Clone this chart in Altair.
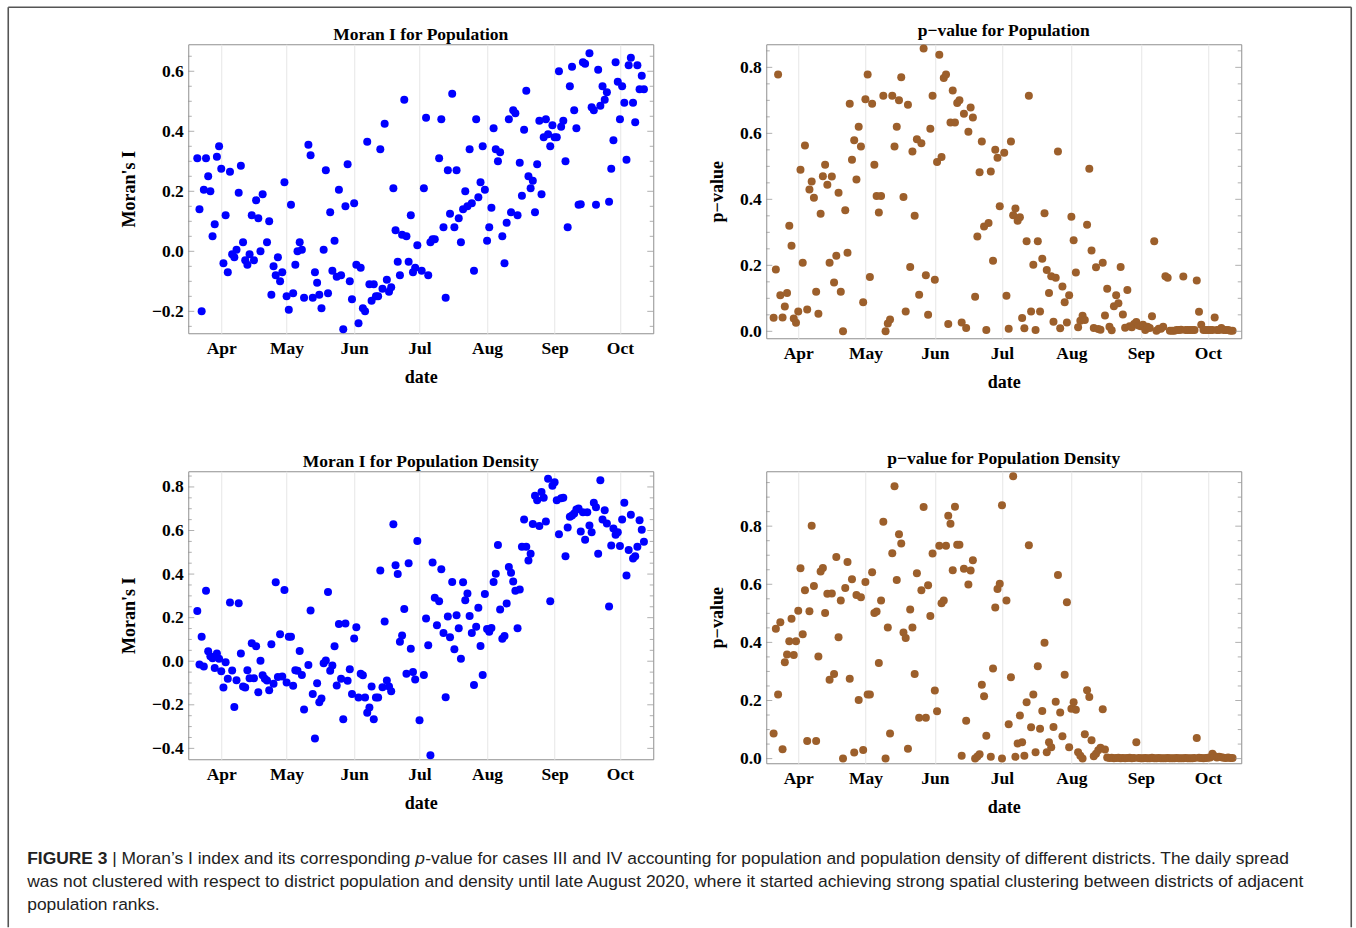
import altair as alt
import pandas as pd

START = pd.Timestamp("2020-03-01")  # day 0 of the day-offset arrays below

# ---------------- Moran I for Population ----------------
MI_POP_DAY = [20, 21, 22, 23, 24, 25, 26, 27, 28, 29, 30, 31, 32, 33, 34, 35, 36, 37, 38, 39,
              40, 41, 42, 43, 44, 45, 46, 47, 48, 49, 50, 52, 53, 54, 55, 56, 57, 58, 59, 60,
              61, 62, 63, 64, 65, 66, 67, 68, 69, 71, 72, 73, 74, 75, 76, 77, 78, 79, 80, 81,
              82, 83, 84, 85, 86, 87, 88, 89, 90, 91, 92, 93, 94, 95, 96, 97, 98, 99, 100, 101,
              102, 103, 104, 105, 106, 107, 108, 109, 110, 111, 112, 113, 114, 115, 116, 117, 118, 119, 120, 121,
              123, 124, 125, 126, 127, 128, 129, 131, 132, 133, 134, 135, 136, 137, 138, 139, 140, 141, 142, 143,
              144, 145, 146, 147, 148, 149, 150, 151, 152, 153, 154, 155, 156, 157, 158, 159, 160, 161, 162, 163,
              164, 165, 166, 167, 168, 169, 170, 171, 172, 173, 174, 175, 176, 177, 178, 179, 180, 181, 182, 183,
              184, 185, 186, 187, 188, 189, 190, 191, 192, 193, 194, 195, 196, 197, 198, 200, 201, 202, 203, 204,
              205, 206, 207, 208, 209, 210, 211, 212, 213, 214, 215, 216, 217, 218, 219, 220, 221, 222, 223, 224, 225]
MI_POP_VAL = [0.31, 0.14, -0.20, 0.205, 0.31, 0.25, 0.20, 0.05, 0.09, 0.315, 0.35, 0.275, -0.04, 0.12, -0.07, 0.265, -0.01, -0.02, 0.005, 0.195,
              0.285, 0.03, -0.03, -0.045, -0.01, 0.12, -0.03, 0.17, 0.11, 0.00, 0.19, 0.03, 0.10, -0.145, -0.05, -0.08, -0.02, -0.10, -0.07, 0.23,
              -0.15, -0.195, 0.155, -0.14, -0.045, 0.00, 0.03, 0.005, -0.155, 0.355, 0.32, -0.155, -0.07, -0.105, -0.145, -0.19, 0.005, 0.27, -0.14, 0.13,
              -0.065, 0.035, -0.085, 0.205, -0.08, -0.26, 0.15, 0.29, -0.10, -0.16, 0.16, -0.045, -0.24, -0.055, -0.19, -0.20, 0.365, -0.11, -0.165, -0.11,
              -0.15, -0.15, 0.34, -0.125, 0.425, -0.095, -0.135, -0.12, 0.21, 0.07, -0.035, -0.08, 0.055, 0.505, 0.05, -0.035, 0.12, -0.07, -0.055, 0.02,
              -0.065, 0.21, 0.445, -0.08, 0.03, 0.04, 0.04, 0.31, 0.44, 0.08, -0.155, 0.27, 0.125, 0.525, 0.08, 0.27, 0.11, 0.03, 0.14, 0.20,
              0.15, 0.34, 0.16, -0.065, 0.44, 0.18, 0.23, 0.35, 0.205, 0.035, 0.08, 0.145, 0.41, 0.34, 0.30, 0.33, 0.05, -0.04, 0.095, 0.44,
              0.13, 0.47, 0.46, 0.12, 0.295, 0.185, 0.405, 0.535, 0.25, 0.21, 0.235, 0.13, 0.29, 0.435, 0.19, 0.38, 0.44, 0.39, 0.35, 0.42,
              0.38, 0.38, 0.60, 0.415, 0.435, 0.30, 0.08, 0.55, 0.615, 0.47, 0.41, 0.155, 0.157, 0.63, 0.625, 0.66, 0.48, 0.47, 0.155, 0.605,
              0.485, 0.55, 0.505, 0.53, 0.165, 0.275, 0.37, 0.63, 0.565, 0.44, 0.55, 0.495, 0.305, 0.62, 0.645, 0.495, 0.43, 0.62, 0.54, 0.585, 0.54]

# ---------------- p-value for Population ----------------
P_POP_DAY = list(range(20, 122)) + list(range(123, 226))
P_POP_VAL = [0.041, 0.187, 0.778, 0.109, 0.042, 0.075, 0.116, 0.32, 0.259, 0.039, 0.026, 0.06, 0.49, 0.208, 0.563, 0.066, 0.43, 0.454, 0.405, 0.12,
             0.053, 0.356, 0.47, 0.505, 0.444, 0.208, 0.469, 0.148, 0.229, 0.42, 0.12, 0.0, 0.367, 0.238, 0.69, 0.52, 0.579, 0.46, 0.62, 0.56,
             0.088, 0.703, 0.778, 0.165, 0.69, 0.505, 0.41, 0.36, 0.41, 0.714, 0.0, 0.024, 0.036, 0.714, 0.56, 0.62, 0.70, 0.77, 0.407, 0.06,
             0.687, 0.195, 0.545, 0.35, 0.582, 0.111, 0.57, 0.857, 0.17, 0.05, 0.614, 0.714, 0.156, 0.513, 0.838, 0.528, 0.768, 0.778, 0.022, 0.633,
             0.73, 0.633, 0.692, 0.70, 0.027, 0.659, 0.01, 0.605, 0.678, 0.648, 0.105, 0.287, 0.482, 0.575, 0.318, 0.004, 0.328, 0.484, 0.214, 0.55,
             0.526, 0.379,
             0.541, 0.108, 0.008, 0.575, 0.352, 0.372, 0.335, 0.346, 0.04, 0.009, 0.273, 0.714, 0.06, 0.202, 0.004, 0.273, 0.06, 0.22, 0.358, 0.186,
             0.116, 0.167, 0.029, 0.162, 0.545, 0.009, 0.136, 0.088, 0.027, 0.109, 0.347, 0.276, 0.178, 0.012, 0.032, 0.047, 0.034, 0.323, 0.493, 0.245,
             0.01, 0.194, 0.007, 0.005, 0.208, 0.048, 0.129, 0.014, 0.003, 0.076, 0.109, 0.085, 0.195, 0.051, 0.011, 0.125, 0.015, 0.012, 0.022, 0.028,
             0.018, 0.015, 0.02, 0.004, 0.014, 0.01, 0.046, 0.273, 0.002, 0.008, 0.008, 0.014, 0.167, 0.162, 0.002, 0.002, 0.002, 0.004, 0.004, 0.005,
             0.166, 0.004, 0.004, 0.004, 0.004, 0.004, 0.154, 0.059, 0.02, 0.004, 0.004, 0.004, 0.004, 0.004, 0.042, 0.004, 0.004, 0.01, 0.004, 0.004,
             0.004, 0.002, 0.002]

# ---------------- Moran I for Population Density ----------------
MI_DEN_DAY = ([20, 21, 22, 23, 24, 25, 26, 27, 28, 29, 30, 31, 32, 33, 34, 35, 36, 37, 38, 39,
               40, 41, 42, 43, 44, 45, 46, 47, 48, 49, 50, 51, 52, 53, 54, 55, 56, 57, 58, 59,
               60, 61, 62, 63, 64, 65, 66, 67, 68, 69, 71, 72, 73, 74, 75, 76, 77, 78, 79, 80,
               81, 82, 83, 84, 85, 86, 87, 88, 89, 90, 91, 92, 93, 94, 95, 96, 97, 98, 99, 100,
               101, 102, 103, 104, 105, 106, 107, 108, 109, 110, 111, 112, 113, 114, 115, 116, 117, 118, 119, 120,
               121, 122] + list(range(124, 226)))
MI_DEN_VAL = [0.231, -0.015, 0.112, -0.024, 0.324, 0.046, 0.023, 0.014, -0.031, 0.035, 0.011, -0.046, -0.121, -0.005, -0.081, 0.269, -0.043, -0.21, -0.087, 0.266,
              0.035, -0.116, -0.121, -0.041, -0.078, 0.083, -0.078, 0.069, -0.142, 0.002, -0.064, -0.08, -0.089, -0.133, 0.078, -0.103, 0.363, -0.073, 0.124, -0.07,
              0.327, -0.098, 0.112, 0.112, -0.113, -0.041, -0.044, 0.047, -0.063, -0.222, -0.017, 0.233, -0.15, -0.355, -0.101, -0.188, -0.171, -0.009, 0.003, 0.318,
              -0.044, -0.02, 0.069, -0.112, 0.171, -0.08, -0.266, 0.173, -0.09, -0.037, -0.15, 0.104, 0.156, -0.167, -0.058, -0.064, -0.167, -0.237, -0.213, -0.116,
              -0.266, -0.167, -0.167, 0.416, -0.119, 0.182, -0.089, -0.116, -0.138, 0.629, 0.441, 0.4, 0.089, 0.118, 0.24, -0.057, 0.45, 0.057, -0.049, -0.084,
              0.552, -0.271,
              -0.063, 0.196, 0.073, -0.432, 0.453, 0.291, 0.165, 0.275, 0.422, 0.13, -0.165, 0.205, 0.11, 0.364, 0.055, 0.211, 0.151, 0.011, 0.363, 0.28,
              0.311, 0.207, 0.13, -0.109, 0.158, 0.245, 0.07, -0.063, 0.308, 0.148, 0.135, 0.153, 0.364, 0.401, 0.534, 0.237, 0.103, 0.116, 0.265, 0.432,
              0.406, 0.366, 0.323, 0.151, 0.329, 0.526, 0.65, 0.526, 0.462, 0.493, 0.63, 0.759, 0.739, 0.621, 0.777, 0.75, 0.641, 0.837, 0.275, 0.806,
              0.822, 0.739, 0.583, 0.748, 0.75, 0.482, 0.614, 0.663, 0.669, 0.678, 0.696, 0.701, 0.595, 0.684, 0.557, 0.684, 0.623, 0.592, 0.727, 0.707,
              0.493, 0.831, 0.65, 0.693, 0.632, 0.251, 0.531, 0.609, 0.581, 0.592, 0.529, 0.65, 0.727, 0.393, 0.51, 0.672, 0.471, 0.482, 0.525, 0.647,
              0.604, 0.548]

# ---------------- p-value for Population Density ----------------
P_DEN_DAY = (list(range(20, 116)) + [117, 118, 119, 120, 121, 122, 122] + list(range(124, 226)))
P_DEN_VAL = [0.086, 0.447, 0.221, 0.469, 0.032, 0.332, 0.358, 0.404, 0.481, 0.357, 0.404, 0.509, 0.655, 0.428, 0.579, 0.061, 0.507, 0.801, 0.594, 0.061,
             0.351, 0.644, 0.656, 0.501, 0.567, 0.271, 0.568, 0.291, 0.694, 0.418, 0.544, 0.0, 0.587, 0.677, 0.275, 0.617, 0.021, 0.563, 0.202, 0.555,
             0.03, 0.608, 0.221, 0.221, 0.641, 0.501, 0.506, 0.329, 0.544, 0.815, 0.0, 0.451, 0.086, 0.707, 0.937, 0.615, 0.772, 0.74, 0.434, 0.415,
             0.034, 0.513, 0.451, 0.291, 0.638, 0.141, 0.579, 0.866, 0.141, 0.597, 0.491, 0.706, 0.234, 0.163, 0.733, 0.535, 0.544, 0.733, 0.836, 0.808,
             0.648, 0.867, 0.736, 0.736, 0.01, 0.653, 0.13, 0.599, 0.647, 0.683, 0.0, 0.007, 0.015, 0.254, 0.215, 0.079,
             0.006, 0.31, 0.52, 0.584, 0.602, 0.0, 0.872,
             0.544, 0.118, 0.28, 0.972, 0.006, 0.052, 0.148, 0.056, 0.01, 0.194, 0.734, 0.108, 0.221, 0.022, 0.318, 0.103, 0.164, 0.399, 0.022, 0.056,
             0.039, 0.109, 0.196, 0.632, 0.159, 0.077, 0.289, 0.538, 0.039, 0.172, 0.194, 0.168, 0.022, 0.01, 0.0, 0.084, 0.235, 0.212, 0.063, 0.008,
             0.017, 0.029, 0.037, 0.17, 0.031, 0.004, 0.002, 0.003, 0.001, 0.002, 0.003, 0.001, 0.002, 0.001, 0.002, 0.003, 0.001, 0.002, 0.056, 0.002,
             0.001, 0.001, 0.002, 0.001, 0.001, 0.003, 0.001, 0.001, 0.002, 0.001, 0.001, 0.001, 0.002, 0.001, 0.001, 0.001, 0.002, 0.001, 0.001, 0.001,
             0.002, 0.001, 0.001, 0.001, 0.002, 0.071, 0.003, 0.002, 0.001, 0.002, 0.003, 0.004, 0.017, 0.008, 0.004, 0.006, 0.005, 0.003, 0.002, 0.004,
             0.002, 0.002]

MONTH_STARTS = ["2020-04-01", "2020-05-01", "2020-06-01", "2020-07-01", "2020-08-01", "2020-09-01", "2020-10-01"]

MI_POP_MAJOR = [-0.2, 0.0, 0.2, 0.4, 0.6]
MI_POP_MINOR = [-0.25, -0.15, -0.1, -0.05, 0.05, 0.1, 0.15, 0.25, 0.3, 0.35, 0.45, 0.5, 0.55, 0.65]
P_MAJOR = [0.0, 0.2, 0.4, 0.6, 0.8]
P_POP_MINOR = [0.05, 0.1, 0.15, 0.25, 0.3, 0.35, 0.45, 0.5, 0.55, 0.65, 0.7, 0.75, 0.85]
P_DEN_MINOR = [0.05, 0.1, 0.15, 0.25, 0.3, 0.35, 0.45, 0.5, 0.55, 0.65, 0.7, 0.75, 0.85, 0.9, 0.95]
MI_DEN_MAJOR = [-0.4, -0.2, 0.0, 0.2, 0.4, 0.6, 0.8]
MI_DEN_MINOR = [-0.35, -0.3, -0.25, -0.15, -0.1, -0.05, 0.05, 0.1, 0.15, 0.25, 0.3, 0.35, 0.45, 0.5, 0.55, 0.65, 0.7, 0.75, 0.85]

BLUE = "#0000ff"
BROWN = "#9c5f2b"
FRAME = "#8f8f8f"
SERIF = "Liberation Serif"
SANS = "Liberation Sans"
PVAL = "p\u2212value"


def to_ms(days):
    return [int((START + pd.Timedelta(days=float(d))).value // 10**6) for d in days]


MONTH_MS = [int(pd.Timestamp(m).value // 10**6) for m in MONTH_STARTS]
ONE = pd.DataFrame({"k": [0]})


def panel(days, vals, color, title, ytitle, ydom, xdom, majors, minors, w, h, toff, extra=()):
    df = pd.DataFrame({"t": to_ms(days), "v": vals})
    xs = alt.Scale(type="utc", domain=to_ms(xdom), nice=False)
    ys = alt.Scale(domain=ydom, nice=False, zero=False)
    pts = alt.Chart(df).mark_circle(size=64, color=color, opacity=1).encode(
        x=alt.X("t:T", scale=xs,
                axis=alt.Axis(values=MONTH_MS, labelExpr="utcFormat(datum.value, '%b')",
                              grid=True, ticks=False, tickSize=0, domain=False,
                              labelPadding=6, title="date", titlePadding=12)),
        y=alt.Y("v:Q", scale=ys,
                axis=alt.Axis(values=majors, format=".1f", ticks=False, tickSize=0,
                              domain=False, grid=False, labelPadding=5,
                              title=ytitle, titlePadding=13)),
    )
    ticks = []
    for vals_t, length in ((majors, 6), (minors, 3.5)):
        tdf = pd.DataFrame({"v": vals_t})
        for xpos in (length / 2, w - length / 2):
            ticks.append(
                alt.Chart(tdf).mark_tick(color=FRAME, thickness=1, size=length).encode(
                    y=alt.Y("v:Q", scale=ys, axis=None), x=alt.value(xpos)))
    head = alt.Chart(ONE).mark_text(align="center", baseline="alphabetic", font=SERIF,
                                    fontSize=17.5, fontWeight="bold", color="#000000").encode(
        x=alt.value(w / 2), y=alt.value(-toff), text=alt.value(title))
    return alt.layer(pts, *ticks, head, *extra).resolve_axis(y="independent").properties(
        width=w, height=h)


# outer frame of the figure (drawn relative to the first panel)
frame_layers = [
    alt.Chart(ONE).mark_rule(color="#555555", strokeWidth=1.6).encode(
        x=alt.value(-180), x2=alt.value(1163), y=alt.value(-37)),
    alt.Chart(ONE).mark_rule(color="#555555", strokeWidth=1.6).encode(
        x=alt.value(-180), y=alt.value(-37), y2=alt.value(883)),
    alt.Chart(ONE).mark_rule(color="#555555", strokeWidth=1.6).encode(
        x=alt.value(1163), y=alt.value(-37), y2=alt.value(883)),
]

CAP_SIZE = 17.4
CAP_COLOR = "#222222"
caption_parts = [
    ("FIGURE 3", -161, 393, "bold", "normal"),
    ("| Moran\u2019s I index and its corresponding", -76, 393, "normal", "normal"),
    ("p", 227, 393, "normal", "italic"),
    ("-value for cases III and IV accounting for population and population density of different districts. The daily spread", 237, 393, "normal", "normal"),
    ("was not clustered with respect to district population and density until late August 2020, where it started achieving strong spatial clustering between districts of adjacent", -161, 416, "normal", "normal"),
    ("population ranks.", -161, 439, "normal", "normal"),
]
caption_layers = [
    alt.Chart(ONE).mark_text(align="left", baseline="alphabetic", font=SANS, fontSize=CAP_SIZE,
                             color=CAP_COLOR, fontWeight=fw, fontStyle=fs).encode(
        x=alt.value(x), y=alt.value(y), text=alt.value(txt))
    for txt, x, y, fw, fs in caption_parts
]

p1 = panel(MI_POP_DAY, MI_POP_VAL, BLUE, "Moran I for Population", "Moran's I",
           [-0.273, 0.69], [15.85, 229.28], MI_POP_MAJOR, MI_POP_MINOR, 465, 289, 4, frame_layers)
p2 = panel(P_POP_DAY, P_POP_VAL, BROWN, "p\u2212value for Population", PVAL,
           [-0.021, 0.870], [16.71, 228.87], P_MAJOR, P_POP_MINOR, 475, 294, 8)
p3 = panel(MI_DEN_DAY, MI_DEN_VAL, BLUE, "Moran I for Population Density", "Moran's I",
           [-0.45, 0.872], [15.85, 229.28], MI_DEN_MAJOR, MI_DEN_MINOR, 465, 288, 4, caption_layers)
p4 = panel(P_DEN_DAY, P_DEN_VAL, BROWN, "p\u2212value for Population Density", PVAL,
           [-0.016, 0.989], [16.71, 228.87], P_MAJOR, P_DEN_MINOR, 475, 292, 7)

chart = alt.concat(p1, p2, p3, p4, columns=2, spacing={"row": 133, "column": 113}, bounds="flush").properties(
    padding={"left": 6.25, "top": 5.25, "right": 0, "bottom": 0},
    background="white",
).configure_view(
    stroke=FRAME, strokeWidth=1
).configure_axis(
    labelFont=SERIF, labelFontWeight="bold", labelFontSize=17.5, labelColor="#000000",
    titleFont=SERIF, titleFontWeight="bold", titleFontSize=18, titleColor="#000000",
    gridColor="#e6e6e6", gridWidth=1,
)

chart.save("out.html", embed_options={"renderer": "svg", "actions": False})
